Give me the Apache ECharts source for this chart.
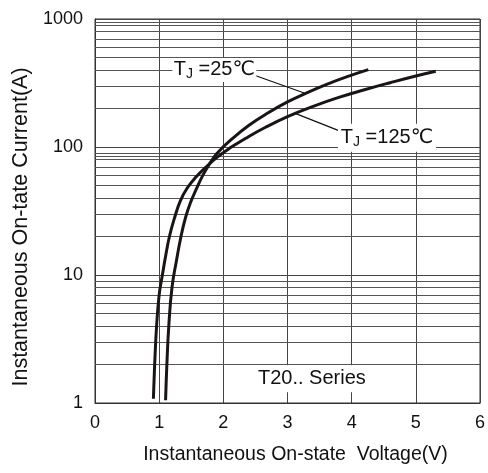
<!DOCTYPE html>
<html>
<head>
<meta charset="utf-8">
<script src="https://cdn.jsdelivr.net/npm/echarts@6/dist/echarts.min.js"></script>
<style>
html, body { margin: 0; padding: 0; background: #fff; }
#chart { width: 488px; height: 473px; }
</style>
</head>
<body>
<div id="chart"></div>
<script>
const FONT = '"Liberation Sans", Arial, "DejaVu Sans", "Noto Sans CJK SC", sans-serif';

// on-state voltage (V) / current (A)
const v25 = [1.10, 1.12, 1.15, 1.20, 1.27, 1.34, 1.41, 1.49, 1.58, 1.68, 1.78, 1.90, 2.13, 2.40, 2.70, 3.00, 3.30, 3.62, 3.92, 4.26];
const i25 = [1.05, 2, 4, 8, 13, 20, 28, 37, 47, 60, 73, 89, 115, 148, 185, 225, 265, 310, 353, 402];
const v125 = [0.91, 0.93, 0.96, 1.00, 1.05, 1.10, 1.16, 1.24, 1.33, 1.44, 1.57, 1.72, 1.90, 2.10, 2.35, 2.65, 3.00, 3.40, 3.80, 4.20, 4.60, 5.00, 5.31];
const i125 = [1.08, 2, 4, 7, 10, 14, 20, 28, 38, 48, 58, 69, 83, 98, 117, 142, 173, 208, 244, 280, 318, 359, 391];

const xTicks = [0, 1, 2, 3, 4, 5, 6];
const yTicks = [1, 10, 100, 1000];
// minor grid lines (2..9 per decade, plus the two odd extra lines of the original)
const yMinor = [2, 3, 4, 5, 6, 7, 8, 9, 20, 30, 40, 50, 60, 70, 80, 85, 90, 200, 300, 400, 500, 600, 700, 800, 900, 950];

// annotation anchors in data units
const label25 = { text: 'T{s|J} =25℃', at: [1.86, 400] };
const lead25 = [[2.43, 372], [3.26, 264]];
const label125 = { text: 'T{s|J} =125℃', at: [4.55, 118] };
const lead125 = [[3.82, 133], [3.11, 184]];
const labelSeries = { text: 'T20.. Series', at: [3.38, 1.55] };

const zip = (xs, ys) => xs.map((x, i) => [x, ys[i]]);

const chart = echarts.init(document.getElementById('chart'));
chart.setOption({
	animation: false,
	grid: { left: 95, right: 3, top: 19, bottom: 70, show: true, borderColor: '#333', borderWidth: 1 },
	xAxis: {
		type: 'value', min: 0, max: 6, interval: 1,
		name: 'Instantaneous On-state  Voltage(V)', nameLocation: 'middle', nameGap: 42,
		nameTextStyle: { fontFamily: FONT, fontSize: 19.5, color: '#111', padding: [0, 0, 0, 16] },
		axisLine: { lineStyle: { color: '#333', width: 1 } },
		axisTick: { show: false },
		axisLabel: { fontFamily: FONT, fontSize: 18, color: '#111', margin: 11,
			formatter: v => xTicks.includes(v) ? String(v) : '' },
		splitLine: { show: true, lineStyle: { color: '#444', width: 1 } }
	},
	yAxis: {
		type: 'log', min: 1, max: 1000, logBase: 10,
		name: 'Instantaneous On-tate Current(A)', nameLocation: 'middle', nameGap: 61, nameRotate: 90,
		nameTextStyle: { fontFamily: FONT, fontSize: 21.5, color: '#111', padding: [0, 32, 0, 0] },
		axisLine: { show: true, lineStyle: { color: '#333', width: 1 } },
		axisTick: { show: false },
		axisLabel: { fontFamily: FONT, fontSize: 18, color: '#111', margin: 12,
			formatter: v => yTicks.includes(v) ? String(v) : '' },
		splitLine: { show: true, lineStyle: { color: '#444', width: 1 } }
	},
	series: [
		{
			type: 'line', name: 'grid', data: [], silent: true,
			markLine: {
				silent: true, symbol: ['none', 'none'], label: { show: false },
				lineStyle: { color: '#555', width: 1, type: 'solid' },
				emphasis: { disabled: true },
				data: yMinor.map(v => ({ yAxis: v }))
			}
		},
		{ type: 'line', name: 'TJ=25', data: zip(v25, i25), smooth: 0.45, showSymbol: false, z: 5,
			lineStyle: { color: '#1a1414', width: 3 } },
		{ type: 'line', name: 'TJ=125', data: zip(v125, i125), smooth: 0.45, showSymbol: false, z: 5,
			lineStyle: { color: '#1a1414', width: 3 } }
	]
});

const px = p => chart.convertToPixel({ gridIndex: 0 }, p);
const rich = { s: { fontFamily: FONT, fontSize: 14, padding: [9, 0, 0, 0], fill: '#111' } };

function textLabel(lbl, w, h) {
	const c = px(lbl.at);
	return [
		{ type: 'rect', z: 20, shape: { x: c[0] - w / 2, y: c[1] - h / 2, width: w, height: h }, style: { fill: '#fff' } },
		{ type: 'text', z: 21, x: c[0], y: c[1],
			style: { text: lbl.text, rich: rich, font: '20px ' + FONT, fill: '#111', align: 'center', verticalAlign: 'middle' } }
	];
}
function leader(seg) {
	const a = px(seg[0]), b = px(seg[1]);
	return { type: 'line', z: 19, shape: { x1: a[0], y1: a[1], x2: b[0], y2: b[1] }, style: { stroke: '#111', lineWidth: 1.2 } };
}

chart.setOption({
	graphic: [
		leader(lead25), leader(lead125),
		...textLabel(label25, 84, 24),
		...textLabel(label125, 98, 28),
		...textLabel(labelSeries, 112, 27)
	]
});
</script>
</body>
</html>
